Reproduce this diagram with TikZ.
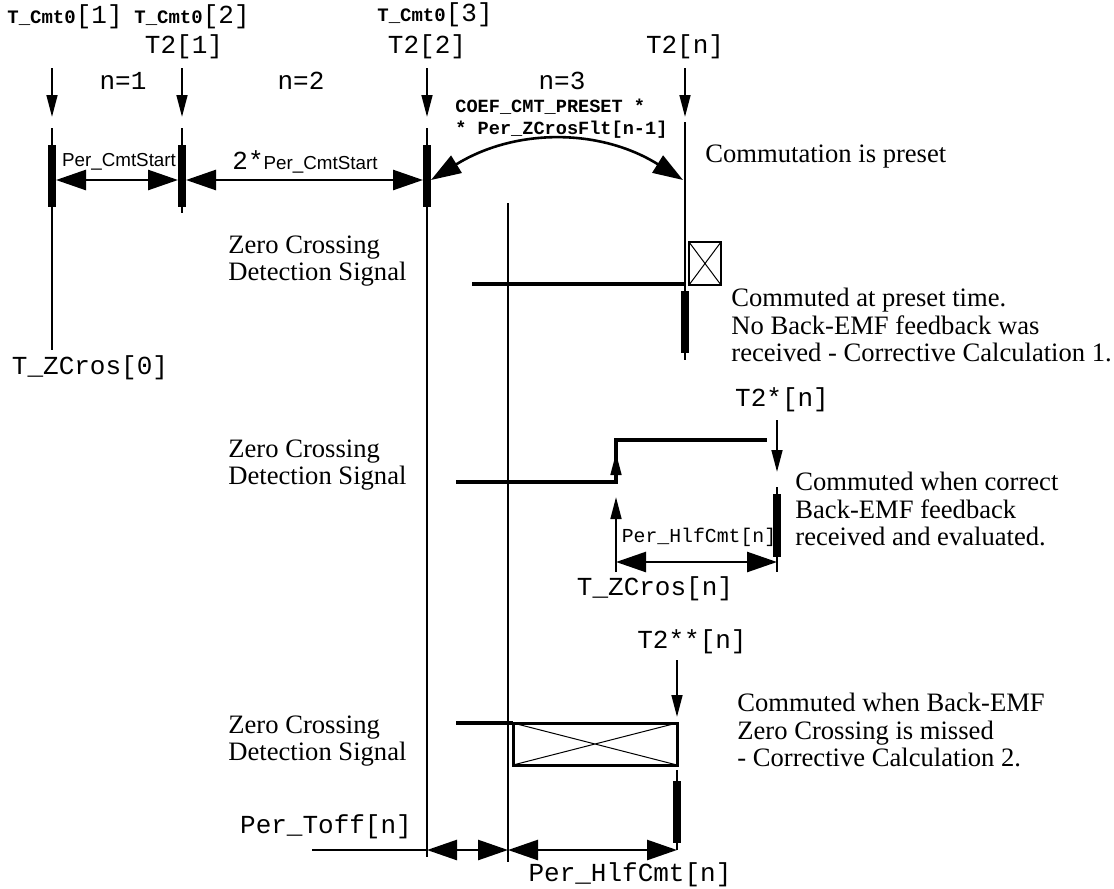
\documentclass[tikz,border=0pt]{standalone}
\usepackage{fontspec}
\setmainfont{Liberation Serif}
\setsansfont{Liberation Sans}
\setmonofont{Liberation Mono}
\usetikzlibrary{arrows.meta}

\newcommand{\monobig}{\ttfamily\fontsize{13}{14}\selectfont}
\newcommand{\monosmall}{\ttfamily\fontsize{9.9}{11}\selectfont}
\newcommand{\cmtlabel}[1]{{\ttfamily\bfseries\fontsize{9.5}{11}\selectfont T\_Cmt0}{\monobig[#1]}}

\begin{document}
\begin{tikzpicture}[
      x=0.5pt, y=-0.5pt,
      tline/.style={line width=1.1pt},
      bar/.style={line width=3.6pt},
      sig/.style={line width=1.6pt},
      pointer/.style={tline, -{Triangle[length=11pt,width=5.4pt]}},
      dim/.style={line width=1.3pt, {Triangle[length=15pt,width=10pt]}-{Triangle[length=15pt,width=10pt]}},
      mono/.style={inner sep=0pt, font=\monobig},
      note/.style={inner sep=0pt, anchor=west, align=left,
        font=\fontsize{13.3}{13.6}\selectfont}
    ]
      \useasboundingbox (0,0) rectangle (1114,889);

      % Time marks on top: pointer arrows
      \foreach \x/\n in {52/a, 182/b, 427/c, 685/d} {
        \coordinate (top\n) at (\x,68);
        \coordinate (tip\n) at (\x,117);
        \draw[pointer] (top\n) -- (tip\n);
      }

      % Vertical time lines
      \coordinate (la1) at (52,128);   \coordinate (la2) at (52,350);
      \coordinate (lb1) at (182,128);  \coordinate (lb2) at (182,213);
      \coordinate (lc1) at (427,128);  \coordinate (lc2) at (427,857);
      \coordinate (ld1) at (685,122);  \coordinate (ld2) at (685,360);
      \coordinate (le1) at (508,203);  \coordinate (le2) at (508,862);
      \draw[tline] (la1) -- (la2);
      \draw[tline] (lb1) -- (lb2);
      \draw[tline] (lc1) -- (lc2);
      \draw[tline] (ld1) -- (ld2);
      \draw[tline] (le1) -- (le2);

      % Commutation bars
      \foreach \x/\n in {52/a, 182/b, 427/c} {
        \draw[bar] (\x,145) -- (\x,207);
      }
      \draw[bar] (685,291) -- (685,353);

      % Labels on top
      \node[inner sep=0pt] (cmt1) at (65,17) {\cmtlabel{1}};
      \node[inner sep=0pt] (cmt2) at (192,17) {\cmtlabel{2}};
      \node[inner sep=0pt] (cmt3) at (435,15) {\cmtlabel{3}};
      \node[mono] (t21) at (184,47) {T2[1]};
      \node[mono] (t22) at (427,47) {T2[2]};
      \node[mono] (t2n) at (685,47) {T2[n]};
      \node[mono] (n1) at (123,81) {n=1};
      \node[mono] (n2) at (301,81) {n=2};
      \node[mono] (n3) at (562,81) {n=3};

      % Start periods
      \coordinate (pa) at (56,180);  \coordinate (pb1) at (178,180);
      \coordinate (pb2) at (186,180); \coordinate (pc1) at (423,180);
      \coordinate (pc2) at (431,180); \coordinate (pd) at (683,180);
      \draw[dim] (pa) -- (pb1);
      \draw[dim] (pb2) -- (pc1);
      \draw[dim] (pc2) .. controls (515,128) and (600,128) .. (pd);
      \node[inner sep=0pt, font=\sffamily\fontsize{9.4}{11}\selectfont]
        (cmtstart) at (119,162) {Per\_CmtStart};
      \node[inner sep=0pt] (cmtstart2) at (305,162)
        {{\monobig 2*}{\sffamily\fontsize{9.4}{11}\selectfont Per\_CmtStart}};
      \node[inner sep=0pt, anchor=west, align=left,
        font=\ttfamily\bfseries\fontsize{9.3}{11}\selectfont]
        (coef) at (455,119) {COEF\_CMT\_PRESET *\\* Per\_ZCrosFlt[n-1]};
      \node[note] (preset) at (705,157) {Commutation is preset};

      % Case 1: commuted at preset time
      \node[note] (zc1) at (228,261) {Zero Crossing\\Detection Signal};
      \coordinate (s1a) at (472,284); \coordinate (s1b) at (686,284);
      \draw[sig] (s1a) -- (s1b);
      \draw[line width=1.4pt] (689,242) rectangle (721,285);
      \draw[line width=0.5pt] (689,242) -- (721,285) (721,242) -- (689,285);
      \node[note] (case1) at (731,325)
        {Commuted at preset time.\\No Back-EMF feedback was\\received - Corrective Calculation 1.};
      \node[mono] (tz0) at (90,368) {T\_ZCros[0]};

      % Case 2: correct feedback
      \node[mono] (t2s) at (782,400) {T2*[n]};
      \coordinate (qa) at (777,420); \coordinate (qb) at (777,472);
      \draw[pointer] (qa) -- (qb);
      \coordinate (q1) at (777,487); \coordinate (q2) at (777,572);
      \draw[tline] (q1) -- (q2);
      \draw[bar] (777,494) -- (777,557);
      \node[note] (zc2) at (228,465) {Zero Crossing\\Detection Signal};
      \coordinate (s2a) at (456,482); \coordinate (s2b) at (616,440);
      \coordinate (s2c) at (767,440);
      \draw[sig] (s2a) -| (s2b) -- (s2c);
      \draw[pointer] (616,482) -- (616,453);
      \coordinate (zn1) at (616,572); \coordinate (zn2) at (616,497);
      \draw[pointer] (zn1) -- (zn2);
      \coordinate (h1) at (616,562); \coordinate (h2) at (777,562);
      \draw[dim] (h1) -- (h2);
      \node[inner sep=0pt, font=\monosmall] (hlf1) at (699,537) {Per\_HlfCmt[n]};
      \node[mono] (tzn) at (655,589) {T\_ZCros[n]};
      \node[note] (case2) at (795,509)
        {Commuted when correct\\Back-EMF feedback\\received and evaluated.};

      % Case 3: zero crossing missed
      \node[mono] (t2ss) at (692,642) {T2**[n]};
      \coordinate (ra) at (677,660); \coordinate (rb) at (677,717);
      \draw[pointer] (ra) -- (rb);
      \coordinate (r1) at (677,770); \coordinate (r2) at (677,850);
      \draw[tline] (r1) -- (r2);
      \draw[bar] (677,781) -- (677,843);
      \node[note] (zc3) at (228,741) {Zero Crossing\\Detection Signal};
      \coordinate (s3a) at (456,723); \coordinate (s3b) at (513,723);
      \draw[sig] (s3a) -- (s3b);
      \draw[line width=1.5pt] (513,723) rectangle (677,765);
      \draw[line width=0.5pt] (513,723) -- (677,765) (677,723) -- (513,765);
      \node[note] (case3) at (737,730)
        {Commuted when Back-EMF\\Zero Crossing is missed\\- Corrective Calculation 2.};

      % Bottom periods
      \coordinate (b0) at (312,850); \coordinate (b1) at (427,850);
      \coordinate (b2) at (508,850); \coordinate (b3) at (677,850);
      \draw[tline] (b0) -- (b1);
      \draw[dim] (b1) -- (b2);
      \draw[dim] (b2) -- (b3);
      \node[mono] (toff) at (326,827) {Per\_Toff[n]};
      \node[mono] (hlf2) at (630,875) {Per\_HlfCmt[n]};
    \end{tikzpicture}
\end{document}
